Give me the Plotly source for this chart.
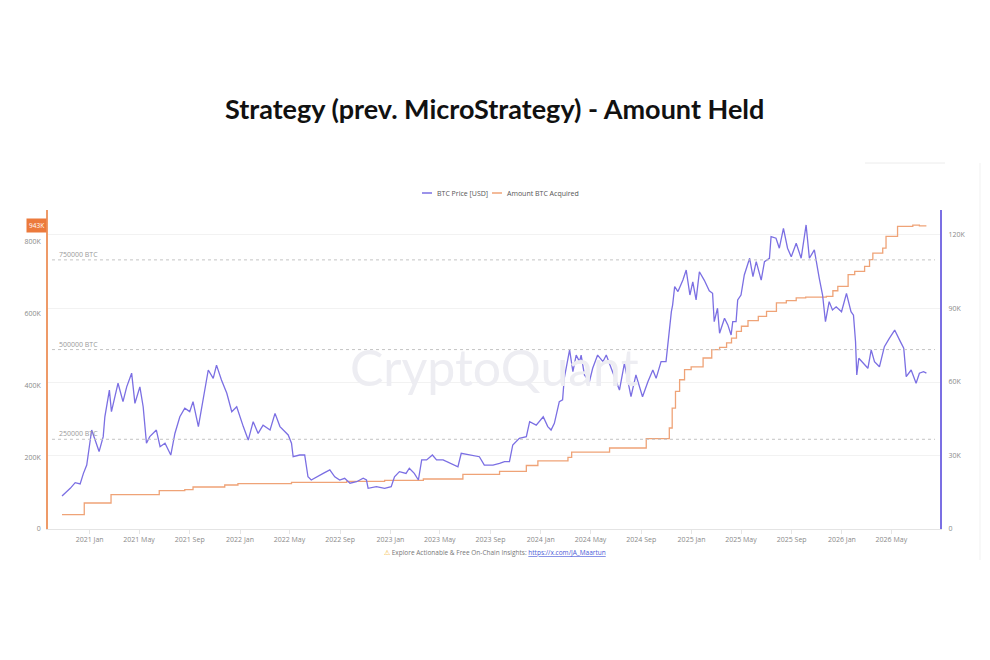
import plotly.graph_objects as go

# ---------------- data ----------------
price_dates = [
    "2020-10-26", "2020-11-15", "2020-11-27", "2020-12-09", "2020-12-17", "2020-12-25",
    "2021-01-06", "2021-01-14", "2021-01-24", "2021-02-03", "2021-02-07", "2021-02-18",
    "2021-02-23", "2021-03-11", "2021-03-23", "2021-04-01", "2021-04-13", "2021-04-21",
    "2021-05-03", "2021-05-11", "2021-05-15", "2021-05-19", "2021-05-27", "2021-06-12",
    "2021-06-21", "2021-07-03", "2021-07-17", "2021-07-27", "2021-08-08", "2021-08-20",
    "2021-09-01", "2021-09-09", "2021-09-22", "2021-10-04", "2021-10-16", "2021-10-28",
    "2021-11-05", "2021-11-17", "2021-11-30", "2021-12-12", "2021-12-24", "2022-01-09",
    "2022-01-21", "2022-02-02", "2022-02-14", "2022-02-26", "2022-03-15", "2022-03-27",
    "2022-04-08", "2022-04-28", "2022-05-06", "2022-05-10", "2022-05-26", "2022-06-07",
    "2022-06-15", "2022-06-23", "2022-07-06", "2022-07-22", "2022-08-07", "2022-08-19",
    "2022-08-31", "2022-09-12", "2022-09-25", "2022-10-11", "2022-10-27", "2022-11-04",
    "2022-11-08", "2022-11-28", "2022-12-18", "2023-01-03", "2023-01-11", "2023-01-23",
    "2023-02-08", "2023-02-16", "2023-02-28", "2023-03-10", "2023-03-18", "2023-03-30",
    "2023-04-13", "2023-04-23", "2023-05-09", "2023-05-29", "2023-06-14", "2023-06-22",
    "2023-07-12", "2023-08-05", "2023-08-17", "2023-09-07", "2023-09-23", "2023-10-05",
    "2023-10-17", "2023-10-25", "2023-11-10", "2023-11-27", "2023-12-05", "2023-12-21",
    "2024-01-07", "2024-01-18", "2024-01-26", "2024-02-03", "2024-02-15", "2024-02-23",
    "2024-02-27", "2024-03-11", "2024-03-19", "2024-03-27", "2024-04-04", "2024-04-08",
    "2024-04-16", "2024-04-28", "2024-05-06", "2024-05-18", "2024-05-31", "2024-06-08",
    "2024-06-20", "2024-07-02", "2024-07-10", "2024-07-22", "2024-07-30", "2024-08-07",
    "2024-08-19", "2024-09-04", "2024-09-17", "2024-09-29", "2024-10-07", "2024-10-19",
    "2024-10-31", "2024-11-04", "2024-11-13", "2024-11-16", "2024-11-21", "2024-11-29",
    "2024-12-11", "2024-12-19", "2024-12-28", "2025-01-04", "2025-01-12", "2025-01-20",
    "2025-02-01", "2025-02-13", "2025-02-21", "2025-02-25", "2025-03-05", "2025-03-10",
    "2025-03-22", "2025-03-30", "2025-04-07", "2025-04-11", "2025-04-19", "2025-04-23",
    "2025-05-01", "2025-05-09", "2025-05-22", "2025-05-30", "2025-06-07", "2025-06-19",
    "2025-06-27", "2025-07-09", "2025-07-13", "2025-07-25", "2025-08-02", "2025-08-12",
    "2025-08-22", "2025-08-31", "2025-09-12", "2025-09-24", "2025-10-06", "2025-10-14",
    "2025-10-26", "2025-11-07", "2025-11-15", "2025-11-22", "2025-12-01", "2025-12-09",
    "2025-12-18", "2025-12-31", "2026-01-12", "2026-01-23", "2026-01-29", "2026-02-03",
    "2026-02-06", "2026-02-11", "2026-02-25", "2026-03-05", "2026-03-13", "2026-03-21",
    "2026-04-02", "2026-04-14", "2026-04-26", "2026-05-09", "2026-05-21", "2026-05-31",
    "2026-06-06", "2026-06-18", "2026-06-30", "2026-07-08", "2026-07-18", "2026-07-25",
]
price_k = [
    13.5, 16.6, 18.9, 18.4, 22.7, 26.1,
    40.4, 36.3, 31.6, 37.7, 45.8, 56.7,
    47.9, 59.5, 52.0, 58.0, 63.6, 51.3,
    58.0, 49.9, 40.4, 35.0, 37.7, 40.4,
    33.6, 35.0, 30.2, 39.0, 45.8, 49.3,
    47.9, 52.0, 41.8, 54.0, 64.9, 61.5,
    66.9, 60.8, 55.4, 47.9, 49.9, 41.8,
    36.3, 43.8, 39.0, 42.4, 40.4, 47.2,
    41.8, 38.4, 35.0, 29.5, 30.2, 30.2,
    21.3, 20.0, 21.3, 22.7, 24.1, 21.3,
    20.0, 20.7, 18.7, 19.3, 20.7, 20.0,
    16.6, 17.3, 16.6, 17.3, 21.3, 23.4,
    22.7, 24.8, 22.7, 20.0, 28.2, 28.2,
    30.2, 28.2, 28.2, 26.8, 25.4, 30.9,
    30.2, 29.5, 26.1, 26.1, 26.8, 27.5,
    27.5, 34.3, 37.0, 37.7, 43.8, 42.4,
    45.8, 41.8, 40.4, 43.1, 52.0, 52.7,
    61.5, 73.1, 64.2, 71.0, 68.3, 71.0,
    62.9, 60.1, 65.6, 71.0, 68.3, 71.0,
    65.6, 60.1, 56.7, 67.6, 61.5, 54.0,
    62.9, 54.0, 60.1, 64.9, 61.5, 68.3,
    68.3, 75.1, 88.7, 91.4, 98.9, 96.9,
    101.6, 105.7, 95.5, 100.9, 93.5, 105.0,
    101.5, 97.2, 96.2, 84.6, 90.1, 79.9,
    86.0, 83.3, 79.2, 84.6, 84.6, 93.5,
    95.5, 103.7, 110.5, 103.0, 109.1, 101.6,
    109.1, 110.5, 119.3, 118.7, 114.6, 122.7,
    114.6, 111.1, 116.6, 110.5, 124.1, 110.5,
    113.9, 102.3, 95.5, 84.6, 92.8, 89.4,
    90.7, 88.7, 96.2, 88.7, 87.3, 76.4,
    62.9, 69.7, 66.9, 65.6, 73.1, 68.3,
    66.2, 74.4, 77.8, 81.2, 77.1, 73.8,
    62.2, 64.9, 59.5, 63.6, 64.2, 63.6,
]

held_dates = [
    "2020-10-26", "2020-12-19", "2021-02-22", "2021-06-19", "2021-08-20", "2021-09-09",
    "2021-11-25", "2021-12-27", "2022-05-06", "2022-09-17", "2022-12-18", "2023-03-22",
    "2023-06-26", "2023-09-23", "2023-11-27", "2023-12-25", "2024-03-07", "2024-03-16",
    "2024-06-16", "2024-09-13", "2024-11-08", "2024-11-15", "2024-11-23", "2024-12-03",
    "2024-12-15", "2024-12-31", "2025-01-29", "2025-02-19", "2025-03-10", "2025-03-27",
    "2025-04-08", "2025-04-20", "2025-05-02", "2025-05-18", "2025-06-12", "2025-07-02",
    "2025-07-26", "2025-08-19", "2025-09-12", "2025-10-05", "2025-11-24", "2025-12-10",
    "2025-12-22", "2026-01-16", "2026-02-01", "2026-02-25", "2026-03-09", "2026-03-17",
    "2026-04-10", "2026-04-18", "2026-05-16", "2026-06-22", "2026-07-08", "2026-07-25",
]
held_k = [
    40.0, 72.5, 95.6, 106.8, 109.6, 117.0,
    122.6, 126.3, 129.9, 132.7, 135.5, 139.4,
    152.0, 160.6, 177.0, 190.0, 199.6, 214.5,
    225.8, 251.7, 281.5, 337.0, 383.6, 416.0,
    444.0, 452.0, 476.6, 499.8, 506.0, 518.5,
    532.0, 551.0, 565.0, 580.6, 592.6, 606.6,
    630.0, 636.4, 643.9, 646.0, 648.4, 664.0,
    676.0, 709.0, 718.0, 732.0, 750.6, 769.0,
    783.0, 815.6, 843.5, 847.0, 845.0, 845.0,
]

btc_levels = [250000, 500000, 750000]
left_ticks_k = [0, 200, 400, 600, 800]
left_tick_text = ["0", "200K", "400K", "600K", "800K"]
right_ticks_k = [0, 30, 60, 90, 120]
right_tick_text = ["0", "30K", "60K", "90K", "120K"]
badge_text = "943K"

TITLE = "Strategy (prev. MicroStrategy) - Amount Held"
PRICE_NAME = "BTC Price [USD]"
HELD_NAME = "Amount BTC Acquired"

PURPLE = "#7b6fe3"
ORANGE = "#efa377"
AXIS_ORANGE = "#ee9a68"
GRAY = "#8a8a8a"

# ---------------- figure ----------------
fig = go.Figure()

fig.add_trace(go.Scatter(
    x=held_dates, y=held_k, name=HELD_NAME, mode="lines",
    line=dict(color=ORANGE, width=1.3, shape="hv"), yaxis="y", showlegend=False,
))
fig.add_trace(go.Scatter(
    x=price_dates, y=price_k, name=PRICE_NAME, mode="lines",
    line=dict(color=PURPLE, width=1.3), yaxis="y2", showlegend=False,
))

L, R, T, B = 48, 50, 210, 131
W, H = 990, 660
pw, ph = W - L - R, H - T - B


def px_x(px):
    return (px - L) / pw


def px_y(py):
    return (H - B - py) / ph


shapes = []
annotations = []

# dashed BTC level lines
for lv in btc_levels:
    shapes.append(dict(type="line", xref="paper", yref="y", x0=px_x(52), x1=px_x(935),
                       y0=lv / 1000, y1=lv / 1000,
                       line=dict(color="#c4c4c4", width=1, dash="3px,3px")))
    annotations.append(dict(xref="paper", yref="y", x=px_x(57), y=lv / 1000,
                            text=f"{lv} BTC", showarrow=False, xanchor="left",
                            yanchor="bottom", yshift=-1,
                            font=dict(family="Open Sans", size=7, color="#9a9a9a")))

# watermark
annotations.append(dict(xref="paper", yref="paper", x=px_x(494), y=px_y(367),
                        text="CryptoQuant", showarrow=False, yanchor="middle",
                        font=dict(family="Lato", size=50, color="#ededf2")))

# legend (drawn)
shapes.append(dict(type="line", xref="paper", yref="paper", x0=px_x(422), x1=px_x(432),
                   y0=px_y(193), y1=px_y(193), line=dict(color=PURPLE, width=1.5)))
shapes.append(dict(type="line", xref="paper", yref="paper", x0=px_x(492), x1=px_x(502),
                   y0=px_y(193), y1=px_y(193), line=dict(color=ORANGE, width=1.5)))
annotations.append(dict(xref="paper", yref="paper", x=px_x(435), y=px_y(193),
                        text=PRICE_NAME, showarrow=False, xanchor="left", yanchor="middle",
                        font=dict(family="Open Sans", size=7, color="#555")))
annotations.append(dict(xref="paper", yref="paper", x=px_x(505), y=px_y(193),
                        text=HELD_NAME, showarrow=False, xanchor="left", yanchor="middle",
                        font=dict(family="Open Sans", size=7, color="#555")))

# badge with last amount
annotations.append(dict(xref="paper", yref="y", x=px_x(47), y=held_k[-1],
                        text=badge_text, showarrow=False, bgcolor="#ec7a3c",
                        xanchor="right", yanchor="middle",
                        borderpad=2, font=dict(family="Open Sans", size=6.5, color="white")))

# footer
annotations.append(dict(
    xref="paper", yref="paper", x=px_x(495), y=px_y(552), yanchor="middle",
    text=("<span style='color:#f2b01e'>⚠</span> Explore Actionable &amp; Free On-Chain Insights: "
          "<span style='color:#4a5ad8;text-decoration:underline'>https://x.com/JA_Maartun</span>"),
    showarrow=False, font=dict(family="Open Sans", size=6.5, color="#777")))

# title
annotations.append(dict(xref="paper", yref="paper", x=px_x(495), y=px_y(108),
                        text="<b>" + TITLE + "</b>", showarrow=False, yanchor="middle",
                        font=dict(family="Lato", size=27, color="#111")))

# faint frame pieces at top right
shapes.append(dict(type="line", xref="paper", yref="paper", x0=px_x(865), x1=px_x(945),
                   y0=px_y(163), y1=px_y(163), line=dict(color="#ececec", width=1)))
shapes.append(dict(type="line", xref="paper", yref="paper", x0=px_x(980), x1=px_x(980),
                   y0=px_y(163), y1=px_y(560), line=dict(color="#f1f1f1", width=1)))

fig.update_layout(
    width=W, height=H,
    margin=dict(l=L, r=R, t=T, b=B),
    paper_bgcolor="white", plot_bgcolor="white",
    showlegend=False,
    shapes=shapes, annotations=annotations,
    xaxis=dict(
        type="date", range=["2020-09-22", "2026-08-27"],
        tick0="2021-01-01", dtick="M4", tickformat="%Y %b",
        showgrid=False, showline=True, linecolor="#e4e4e4", linewidth=1,
        ticks="outside", ticklen=4, tickcolor="#e4e4e4",
        tickfont=dict(family="Open Sans", size=7, color=GRAY), zeroline=False,
    ),
    yaxis=dict(
        range=[0, 889], tickvals=left_ticks_k, ticktext=left_tick_text,
        showgrid=False, zeroline=False, showline=True, linecolor=AXIS_ORANGE, linewidth=1.5,
        ticks="", ticklabelstandoff=4,
        tickfont=dict(family="Open Sans", size=7, color=GRAY),
    ),
    yaxis2=dict(
        range=[0, 130.2], tickvals=right_ticks_k, ticktext=right_tick_text,
        overlaying="y", side="right",
        showgrid=True, gridcolor="#f2f2f2", gridwidth=1, zeroline=False,
        showline=True, linecolor=PURPLE, linewidth=2,
        ticks="", ticklabelstandoff=5,
        tickfont=dict(family="Open Sans", size=7, color=GRAY),
    ),
)

fig.write_html("out.html")
